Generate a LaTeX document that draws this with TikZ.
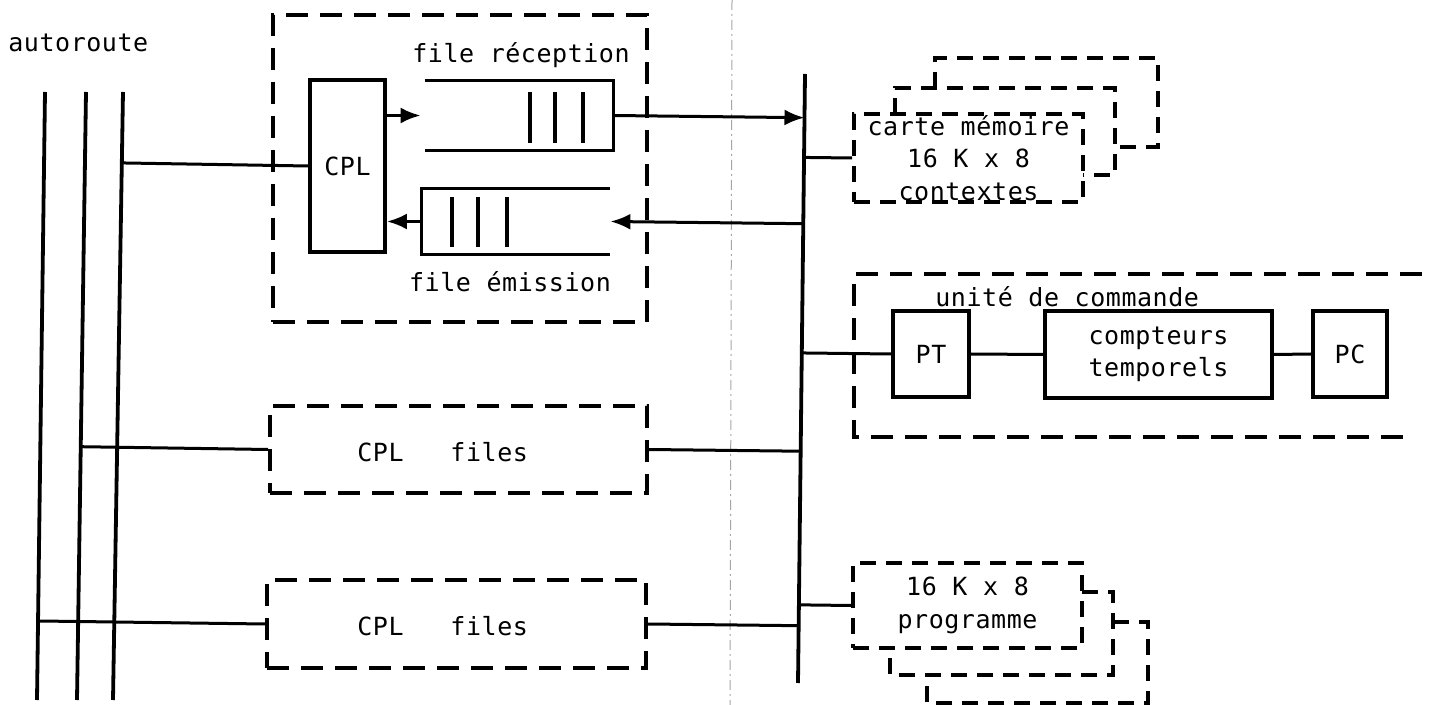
\documentclass[tikz,border=0pt]{standalone}
\usepackage{fontspec}
\usetikzlibrary{arrows.meta,calc}
\newfontfamily\plotfont[LetterSpace=2.2]{DejaVu Sans Mono}

\tikzset{
  txt/.style={font=\plotfont\fontsize{12.5}{16.25}\selectfont, inner sep=0pt, align=center},
  link/.style={line width=1.5pt},
  arr/.style={link, -{Latex[length=10pt,width=8pt]}},
  busline/.style={line width=1.9pt},
  solidbox/.style={draw, line width=1.9pt, inner sep=0pt, txt},
  dashbox/.style={draw, line width=1.8pt, dash pattern=on 11pt off 6pt, inner sep=0pt, txt},
  smalldash/.style={line width=1.8pt, dash pattern=on 8pt off 5pt},
  card/.style={draw, smalldash, inner sep=0pt, txt},
  queue/.style={inner sep=0pt, minimum width=94pt},
  qline/.style={line width=1.8pt},
  bar/.style={line width=2.2pt},
  guide/.style={line width=0.5pt, gray!70, dash pattern=on 5pt off 2pt on 1pt off 2pt}
}

\begin{document}
\begin{tikzpicture}[x=0.5pt, y=-0.5pt]
  \fill[white] (0,0) rectangle (1435,705);
  \useasboundingbox (0,0) rectangle (1435,705);

  % thin guide line between the two halves
  \draw[guide] (732,0) -- (730,705);

  % the three-wire highway
  \node[txt, anchor=west] (hwy) at (8,43) {autoroute};
  \coordinate (a1t) at (45,92);  \coordinate (a1b) at (37,700);
  \coordinate (a2t) at (86,92);  \coordinate (a2b) at (77,700);
  \coordinate (a3t) at (123,92); \coordinate (a3b) at (113,700);
  \draw[busline] (a1t) -- (a1b);
  \draw[busline] (a2t) -- (a2b);
  \draw[busline] (a3t) -- (a3b);

  % internal bus
  \coordinate (busT) at (805,74);
  \coordinate (busB) at (798,683);
  \draw[busline] (busT) -- (busB);

  % coupler with its receive and send queues
  \node[dashbox, minimum width=187pt, minimum height=153.5pt] (grp) at (460,168.5) {};
  \node[solidbox, minimum width=37.5pt, minimum height=86pt] (cpl) at (347.5,166) {CPL};

  \node[queue, minimum height=34.5pt] (rq) at (519,115.5) {};
  \draw[qline] (rq.north west) -- (rq.north east) -- (rq.south east) -- (rq.south west);
  \foreach \x in {530,555,583} \draw[bar] (\x,92) -- (\x,143);
  \node[txt] (rqlbl) at (521,55) {file réception};

  \node[queue, minimum height=32.5pt] (eq) at (516,221.5) {};
  \draw[qline] (eq.north east) -- (eq.north west) -- (eq.south west) -- (eq.south east);
  \foreach \x in {452,478,507} \draw[bar] (\x,197) -- (\x,247);
  \node[txt] (eqlbl) at (510,282) {file émission};

  \draw[arr] (cpl.east |- rq.west) -- ([xshift=-2pt]rq.west);
  \draw[arr] (eq.west) -- (cpl.east |- eq.west);

  % the two other couplers
  \node[dashbox, minimum width=188.5pt, minimum height=43.5pt] (f1) at (458.5,449.5) {};
  \node[txt, anchor=west] (f1lbl) at (357,452) {CPL\ \ \ files};
  \node[dashbox, minimum width=189.5pt, minimum height=44pt] (f2) at (456.5,624) {};
  \node[txt, anchor=west] (f2lbl) at (357,626) {CPL\ \ \ files};

  % links to the highway
  \draw[link] (cpl.west) -- ($(a3t)!(cpl.west)!(a3b)$);
  \draw[link] (f1.west) -- ($(a2t)!(f1.west)!(a2b)$);
  \draw[link] (f2.west) -- ($(a1t)!(f2.west)!(a1b)$);

  % links to the internal bus
  \draw[arr] (rq.east) -- ($(busT)!(rq.east)!(busB)$);
  \draw[arr] ($(busT)!(eq.east)!(busB)$) -- (eq.east);
  \draw[link] (f1.east) -- ($(busT)!(f1.east)!(busB)$);
  \draw[link] (f2.east) -- ($(busT)!(f2.east)!(busB)$);

  % context memory cards
  \node[card, minimum width=114.5pt, minimum height=44pt] (m1) at (968.5,158)
    {carte mémoire\\16 K x 8\\contextes};
  \draw[smalldash] (895,114) -- (895,88) -- (1115,88) -- (1115,175) -- (1083,175);
  \draw[smalldash] (935,88) -- (935,58) -- (1158,58) -- (1158,147) -- (1115,147);
  \draw[link] ($(busT)!(m1.west)!(busB)$) -- (m1.west);

  % control unit
  \coordinate (cuTR) at (1422,274);
  \coordinate (cuTL) at (854,274);
  \coordinate (cuBL) at (854,437);
  \coordinate (cuBR) at (1415,437);
  \draw[line width=1.8pt, dash pattern=on 11pt off 6pt] (cuTR) -- (cuTL) -- (cuBL) -- (cuBR);
  \node[txt, anchor=west] (culbl) at (935,297) {unité de commande};
  \node[solidbox, minimum width=38pt, minimum height=43pt] (pt) at (931,354) {PT};
  \node[solidbox, minimum width=113.5pt, minimum height=43.5pt] (ct) at (1158.5,354.5)
    {compteurs\\temporels};
  \node[solidbox, minimum width=37pt, minimum height=43pt] (pc) at (1350,354) {PC};
  \draw[link] ($(busT)!(pt.west)!(busB)$) -- (pt.west);
  \draw[link] (pt.east) -- (ct.west);
  \draw[link] (ct.east) -- (pc.west);

  % program memory cards
  \node[card, minimum width=114.5pt, minimum height=42.5pt] (p1) at (967.5,605.5)
    {16 K x 8\\programme};
  \draw[smalldash] (1082,592) -- (1113,592) -- (1113,675) -- (890,675) -- (890,648);
  \draw[smalldash] (1113,622) -- (1148,622) -- (1148,703) -- (927,703) -- (927,675);
  \draw[link] ($(busT)!(p1.west)!(busB)$) -- (p1.west);
\end{tikzpicture}
\end{document}
